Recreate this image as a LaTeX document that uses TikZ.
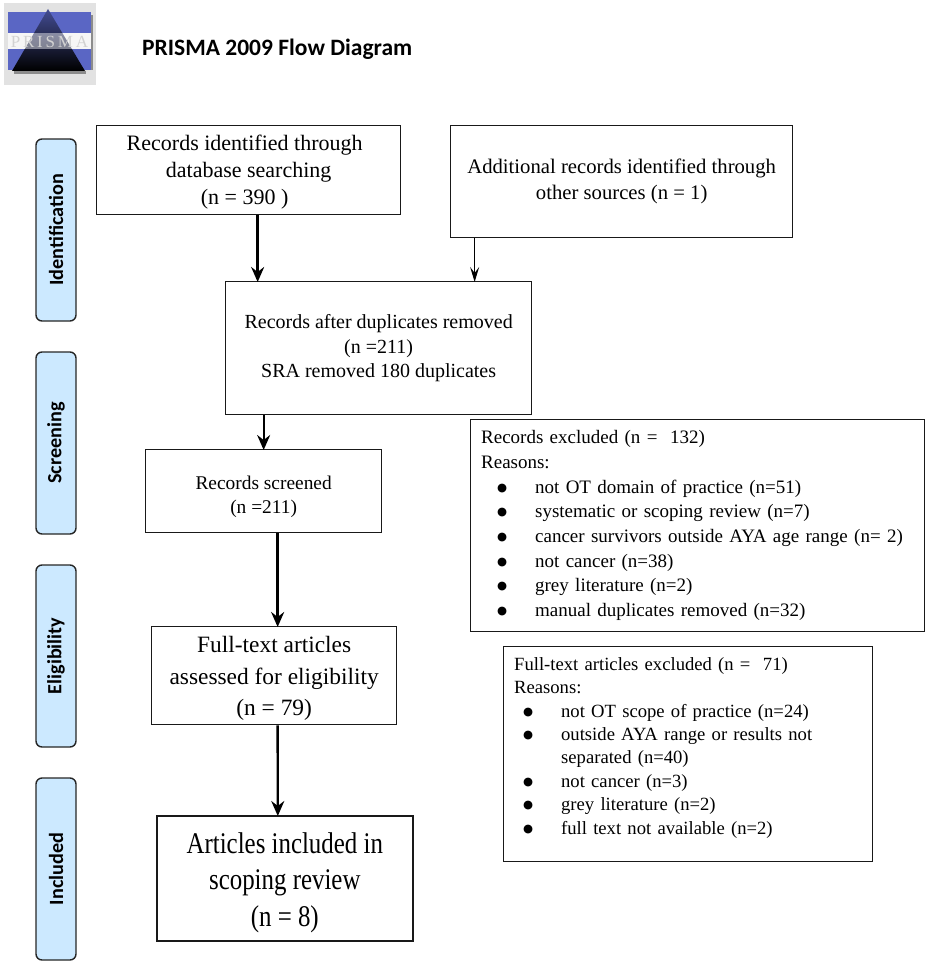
\documentclass[tikz,border=0pt]{standalone}
\usepackage{fontspec}
\setmainfont{Liberation Serif}
\newfontfamily\calib{Carlito}
\newfontfamily\dejavu{DejaVu Sans}
\newfontfamily\condserif[FakeStretch=0.83]{Liberation Serif}
\usetikzlibrary{arrows.meta}
\definecolor{sideblue}{HTML}{CCE9FF}
\definecolor{logoblue}{HTML}{5A66C4}
\definecolor{logogray}{HTML}{E2E2E2}
\tikzset{
  sidebox/.style={draw=black!85,line width=1.4pt,fill=sideblue,rounded corners=6pt,minimum width=40pt,minimum height=182pt,anchor=center,inner sep=0pt},
  sidetext/.style={font=\calib\bfseries\fontsize{20.2}{22}\selectfont,rotate=90,inner sep=0pt},
  flowbox/.style={draw=black!90,line width=1.3pt,align=center,inner sep=0pt,anchor=north west},
  listbox/.style={draw=black!90,line width=1.3pt,align=left,inner xsep=10.5pt,inner ysep=0pt,anchor=north west},
  flowarrow/.style={-{Stealth[length=15pt,width=13pt,inset=5pt]},line width=2.4pt,black,shorten >=-1pt},
  thinarrow/.style={-{Stealth[length=15pt,width=9pt,inset=6pt]},line width=1.6pt,black,shorten >=-1pt},
}
\newcommand{\bitem}[2][16pt]{\hspace*{#1}\makebox[38pt][l]{\raisebox{2pt}{\fontsize{11.5}{0}\dejavu\selectfont ●}}#2}
\begin{document}
\begin{tikzpicture}[x=1pt,y=-1pt]
\useasboundingbox (0,0) rectangle (930,966);
% logo
\fill[logogray] (4,3) rectangle (96,85);
\fill[black!45] (91,15) rectangle (93,70);
\fill[logoblue] (8,12) rectangle (91,33);
\fill[white!88!gray] (8,33) rectangle (91,49);
\fill[logoblue] (8,49) rectangle (91,70);
\fill[black!45] (14,71) rectangle (86,74);
\shade[top color=black!25!logoblue,bottom color=black] (48,9) -- (12,71) -- (85,71) -- cycle;
\fill[white,opacity=.45] (8,33) rectangle (91,49);
\node[font=\fontsize{17}{17}\selectfont,text=white!65!gray,inner sep=0pt] (logotext) at (49.5,42) {P\,R\,I\,S\,M\,A};
\node[font=\calib\bfseries\fontsize{23.5}{26}\selectfont,anchor=west,inner sep=0pt] (title) at (142,49) {PRISMA 2009 Flow Diagram};
% side labels
\foreach \n/\t/\yy in {sa/Identification/230,sb/Screening/443,sc/Eligibility/656,sd/Included/869}{
  \node[sidebox] (\n) at (56,\yy) {};
  \node[sidetext] at (\n) {\t};
}
% boxes
\node[flowbox,minimum width=304pt,minimum height=89pt,font=\fontsize{22}{27}\selectfont] (rec) at (96,125) {\rule{0pt}{20pt}Records identified through\hspace*{8pt}\\database searching\hspace*{8pt}\\(n = 390 )\hspace*{8pt}};
\node[flowbox,minimum width=342pt,minimum height=112pt,font=\fontsize{20.7}{26}\selectfont] (add) at (450,125) {Additional records identified through\\other sources (n = 1)};
\node[flowbox,minimum width=306pt,minimum height=133pt,font=\fontsize{20}{24.5}\selectfont] (dup) at (225,281) {Records after duplicates removed\\(n =211)\\SRA removed 180 duplicates};
\node[flowbox,minimum width=236pt,minimum height=83pt,font=\fontsize{19.4}{24}\selectfont] (scr) at (145,449) {\rule{0pt}{25pt}Records screened\\(n =211)};
\node[flowbox,minimum width=245pt,minimum height=98pt,font=\fontsize{23.4}{31.5}\selectfont] (full) at (151,626) {\rule{0pt}{22pt}Full-text articles\\assessed for eligibility\\(n = 79)};
\node[flowbox,minimum width=256pt,minimum height=125pt,line width=1.6pt,font=\condserif\fontsize{30}{36.5}\selectfont] (inc) at (156,815) {\rule{0pt}{29pt}Articles included in\\scoping review\\(n = 8)};
\node[listbox,minimum width=454pt,minimum height=212pt,text width=433pt,font=\fontsize{19}{24.7}\selectfont] (ex1) at (470,419) {Records excluded (n =\ \ 132)\\Reasons:\\
\bitem{not OT domain of practice (n=51)}\\
\bitem{systematic or scoping review (n=7)}\\
\bitem{cancer survivors outside AYA age range (n= 2)}\\
\bitem{not cancer (n=38)}\\
\bitem{grey literature (n=2)}\\
\bitem{manual duplicates removed (n=32)}};
\node[listbox,minimum width=369pt,minimum height=215pt,text width=348pt,font=\fontsize{18.65}{23.4}\selectfont] (ex2) at (503,646) {Full-text articles excluded (n =\ \ 71)\\Reasons:\\
\bitem[9pt]{not OT scope of practice (n=24)}\\
\bitem[9pt]{outside AYA range or results not}\\
\hspace*{47pt}separated (n=40)\\
\bitem[9pt]{not cancer (n=3)}\\
\bitem[9pt]{grey literature (n=2)}\\
\bitem[9pt]{full text not available (n=2)\rule[-17pt]{0pt}{0pt}}};
% connectors
\draw[flowarrow] ([xshift=9pt]rec.south) -- ([xshift=-121pt]dup.north);
\draw[thinarrow] ([xshift=-147pt]add.south) -- ([xshift=96pt]dup.north);
\draw[flowarrow,line width=2pt] ([xshift=-115pt]dup.south) -- (scr.north);
\draw[flowarrow] ([xshift=14pt]scr.south) -- ([xshift=3.5pt]full.north);
\draw[flowarrow] ([xshift=3.5pt]full.south) -- ([xshift=-7pt]inc.north);
\end{tikzpicture}
\end{document}
